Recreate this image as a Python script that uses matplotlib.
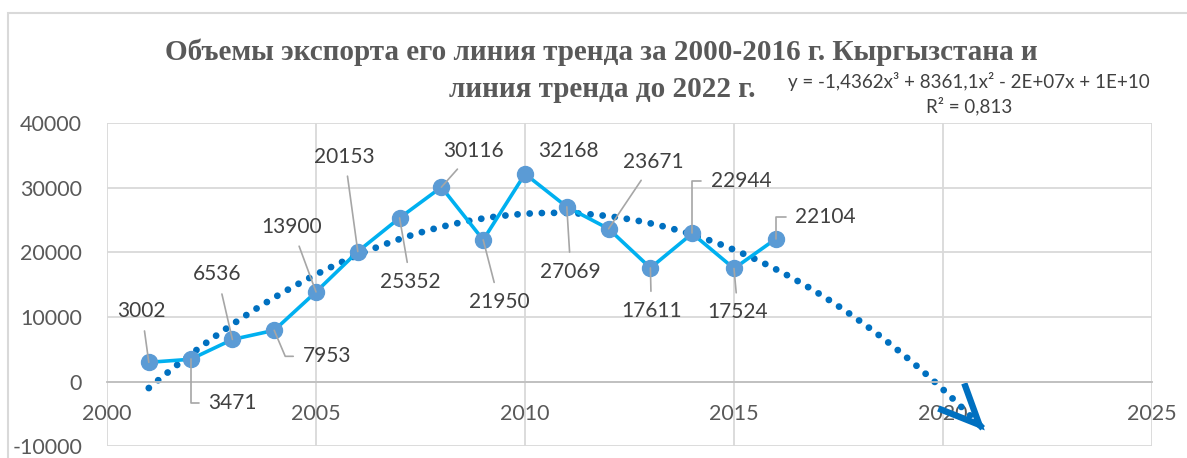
import numpy as np
import matplotlib
matplotlib.use("Agg")
import matplotlib.pyplot as plt
from matplotlib.patches import Rectangle

# ---------------- data ----------------
years = [2001, 2002, 2003, 2004, 2005, 2006, 2007, 2008,
         2009, 2010, 2011, 2012, 2013, 2014, 2015, 2016]
exports = [3002, 3471, 6536, 7953, 13900, 20153, 25352, 30116,
           21950, 32168, 27069, 23671, 17611, 22944, 17524, 22104]
x_ticks = [2000, 2005, 2010, 2015, 2020, 2025]
y_ticks = [-10000, 0, 10000, 20000, 30000, 40000]
trend_forecast_end = 2021
title_line1 = "Объемы экспорта его линия тренда за 2000-2016 г. Кыргызстана и"
title_line2 = "линия тренда до 2022 г."
equation_text = "y = -1,4362x³ + 8361,1x² - 2E+07x + 1E+10\nR² = 0,813"

# label layout: (dx px, dy px up, leader connection style or None)
label_layout = [
    (-7, 51, "arc3"),
    (42, -44, "angle,angleA=0,angleB=90,rad=0"),
    (-15, 65, "arc3"),
    (53, -26, "angle,angleA=0,angleB=-67,rad=0"),
    (-24, 65, "arc3"),
    (-13, 95, "arc3"),
    (11, -64, "arc3"),
    (32, 36, "arc3"),
    (16, -62, "arc3"),
    (43, 23, None),
    (4, -65, "arc3"),
    (45, 67, "arc3"),
    (1, -43, "arc3"),
    (49, 52, "angle,angleA=0,angleB=90,rad=0"),
    (4, -44, "arc3"),
    (50, 22, "angle,angleA=0,angleB=90,rad=0"),
]

plt.rcParams["axes.unicode_minus"] = False
W, H = 1187, 458
fig = plt.figure(figsize=(W / 100, H / 100), dpi=100)

# chart area border
fig.patches.append(Rectangle((8 / W, -0.1), 1.2, 1 - 13 / H + 0.1, transform=fig.transFigure,
                             fill=False, edgecolor="#D9D9D9", lw=1.5, clip_on=False))

ax = fig.add_axes([107 / W, 1 - 446.3 / H, (1152 - 107) / W, (446.3 - 123.3) / H])
ax.set_xlim(2000, 2025)
ax.set_ylim(-10000, 40000)
ax.set_xticks(x_ticks)
ax.set_yticks(y_ticks)
ax.set_xticklabels([str(t) for t in x_ticks])
ax.set_yticklabels([str(t) for t in y_ticks])
ax.grid(True, color="#D9D9D9", lw=1.3)
ax.set_axisbelow(True)
for s in ["top", "right", "left"]:
    ax.spines[s].set_visible(False)
ax.spines["bottom"].set_position(("data", 0))
ax.spines["bottom"].set_color("#BFBFBF")
ax.spines["bottom"].set_linewidth(1.3)
ax.tick_params(axis="both", length=0, labelsize=15.5, labelcolor="#595959")
ax.tick_params(axis="y", pad=18)
ax.tick_params(axis="x", pad=16)
for lab in ax.get_xticklabels() + ax.get_yticklabels():
    lab.set_fontfamily("Lato")

# trend line (cubic fit of the data, forecast forward)
fit = np.polynomial.Polynomial.fit(years, exports, 3)
xs = np.linspace(years[0], trend_forecast_end, 500)
ax.plot(xs, fit(xs), color="#0070C0", lw=4.9, linestyle=(0, (0.01, 1.78)),
        dash_capstyle="round", zorder=2)
ax.annotate("", xy=(trend_forecast_end, fit(trend_forecast_end)),
            xytext=(trend_forecast_end - 0.05, fit(trend_forecast_end - 0.05)),
            arrowprops=dict(arrowstyle="->,head_length=29,head_width=13", mutation_scale=1,
                            lw=4.6, color="#0070C0", shrinkA=0, shrinkB=0,
                            capstyle="butt", joinstyle="miter"), zorder=2)

# data series
ax.plot(years, exports, color="#00B0F0", lw=2.6, marker="o", markersize=11.5,
        markerfacecolor="#5B9BD5", markeredgecolor="#5B9BD5", zorder=4)

# data labels
for yr, v, (dx, dy, conn) in zip(years, exports, label_layout):
    kw = {}
    if conn is not None:
        kw["arrowprops"] = dict(arrowstyle="-", color="#A6A6A6", lw=1.2,
                                shrinkA=5, shrinkB=0, connectionstyle=conn)
    ax.annotate(str(v), xy=(yr, v), xytext=(dx, dy), textcoords="offset pixels",
                ha="center", va="center", fontsize=15, family="Lato",
                color="#404040", zorder=5, **kw)

# title
fig.text(601 / W, 1 - 60 / H, title_line1, ha="center", va="baseline",
         family="Liberation Serif", weight="bold", fontsize=21, color="#595959")
fig.text(602 / W, 1 - 97 / H, title_line2, ha="center", va="baseline",
         family="Liberation Serif", weight="bold", fontsize=21, color="#595959")

# equation
fig.text(969 / W, 1 - 94 / H, equation_text, ha="center", va="center",
         family="Lato", fontsize=13.5, color="#404040", linespacing=1.35)

fig.savefig("out.png", dpi=100)
